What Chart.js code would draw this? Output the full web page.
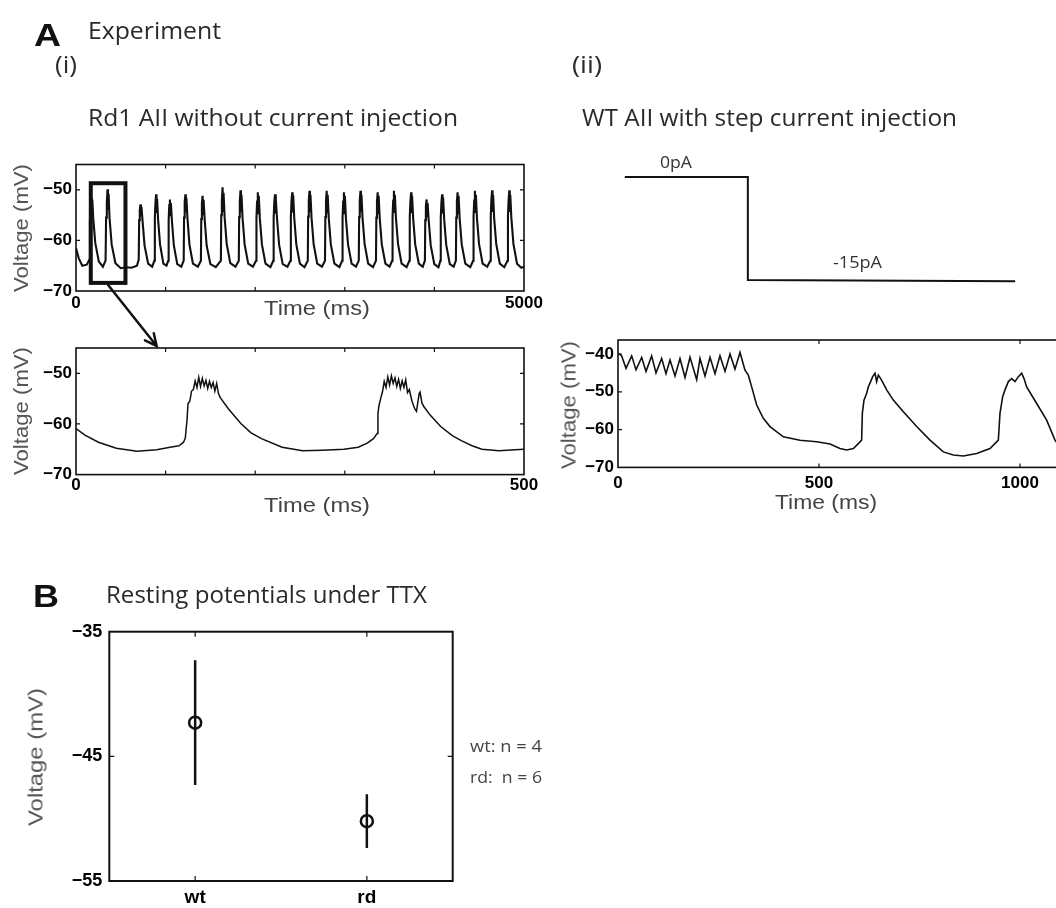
<!DOCTYPE html>
<html>
<head>
<meta charset="utf-8">
<script src="https://cdn.jsdelivr.net/npm/chart.js@4.4.1/dist/chart.umd.min.js"></script>
<style>
  html, body { margin: 0; padding: 0; background: #fff; }
  body { position: relative; width: 1056px; height: 908px; overflow: hidden; }
  canvas { position: absolute; }
  .lbl { position: absolute; white-space: pre; line-height: 1; }
</style>
</head>
<body>
<canvas id="overview" width="560" height="180" style="left:0px;top:140px"></canvas>
<canvas id="zoomed" width="560" height="175" style="left:0px;top:330px"></canvas>
<canvas id="step" width="500" height="160" style="left:600px;top:150px"></canvas>
<canvas id="wtTrace" width="560" height="175" style="left:540px;top:320px"></canvas>
<canvas id="rest" width="470" height="300" style="left:0px;top:615px"></canvas>
<canvas id="arrow" width="1056" height="908" style="left:0px;top:0px"></canvas>
<script>
// (i) Rd1 AII, 5 s recording: [time ms, voltage mV]
const overviewTrace = [
  [0,-61.5],[30,-63.5],[70,-65.0],[120,-64.8],[150,-63.8],
  [155,-56],[163,-53.2],[170,-51.6],[176,-54.5],[182,-52],[192,-55.5],[215,-60.5],[255,-64.2],[300,-65.2],[330,-64],
  [336,-55.5],[344,-52.5],[352,-49.9],[357,-54],[364,-50.8],[374,-55.5],[398,-60.8],[440,-64.5],[500,-65.5],[560,-65.3],[620,-65.4],[680,-65],[700,-63.8],
  [705,-56],[712,-54],[719,-52.9],[725,-55.2],[731,-53.4],[742,-56],[765,-61],[805,-64.6],[850,-65.2],[875,-64],
  [880,-55.5],[887,-52.5],[894,-50.9],[899,-54.6],[905,-51.8],[916,-55.8],[938,-60.8],[975,-64.6],[1010,-65],[1030,-64],
  [1034,-56],[1041,-53],[1048,-51.9],[1053,-55],[1059,-52.6],[1070,-56],[1092,-61],[1130,-64.7],[1175,-65.2],[1202,-64],
  [1206,-55.5],[1213,-52.4],[1221,-50.9],[1226,-54.5],[1232,-51.6],[1244,-55.6],[1266,-60.8],[1305,-64.6],[1360,-65.2],[1394,-64],
  [1398,-55.8],[1405,-52.6],[1413,-51.2],[1418,-54.8],[1424,-52],[1436,-55.8],[1458,-61],[1500,-64.7],[1560,-65.3],[1617,-64],
  [1621,-55],[1628,-52],[1636,-49.5],[1641,-54.2],[1647,-50.6],[1659,-55.5],[1682,-60.7],[1722,-64.5],[1780,-65.2],[1817,-64],
  [1821,-55.4],[1828,-52.2],[1836,-50.1],[1841,-54.4],[1847,-51],[1859,-55.6],[1882,-60.8],[1922,-64.6],[1975,-65.2],[2010,-64],
  [2014,-55.6],[2021,-52.3],[2029,-50.5],[2034,-54.6],[2040,-51.2],[2052,-55.7],[2075,-60.8],[2115,-64.6],[2170,-65.3],[2202,-64],
  [2206,-55.6],[2213,-52.5],[2221,-50.9],[2226,-54.7],[2232,-51.5],[2244,-55.8],[2267,-60.9],[2307,-64.7],[2360,-65.2],[2394,-64],
  [2398,-55.5],[2405,-52.2],[2413,-50.5],[2418,-54.5],[2424,-51.1],[2436,-55.6],[2459,-60.8],[2499,-64.6],[2550,-65.3],[2587,-64],
  [2591,-55.3],[2598,-52.1],[2606,-50.2],[2611,-54.4],[2617,-51],[2629,-55.6],[2652,-60.7],[2692,-64.6],[2745,-65.2],[2779,-64],
  [2783,-55.4],[2790,-52.2],[2798,-50.2],[2803,-54.5],[2809,-51],[2821,-55.6],[2844,-60.8],[2884,-64.6],[2940,-65.3],[2971,-64],
  [2975,-55.5],[2982,-52.3],[2990,-50.5],[2995,-54.6],[3001,-51.2],[3013,-55.7],[3036,-60.8],[3076,-64.6],[3125,-65.2],[3156,-64],
  [3160,-55.4],[3167,-52.1],[3175,-50.2],[3180,-54.4],[3186,-51],[3198,-55.6],[3221,-60.7],[3261,-64.6],[3315,-65.3],[3348,-64],
  [3352,-55.5],[3359,-52.3],[3367,-50.5],[3372,-54.6],[3378,-51.2],[3390,-55.7],[3413,-60.8],[3453,-64.6],[3500,-65.2],[3529,-64],
  [3533,-55.3],[3540,-52.1],[3548,-50.2],[3553,-54.4],[3559,-51],[3571,-55.6],[3594,-60.7],[3634,-64.6],[3690,-65.3],[3721,-64],
  [3725,-55.5],[3732,-52.3],[3740,-50.5],[3745,-54.6],[3751,-51.2],[3763,-55.7],[3786,-60.8],[3826,-64.6],[3870,-65.2],[3894,-64],
  [3898,-56],[3905,-53.2],[3913,-51.9],[3918,-55.2],[3924,-52.6],[3936,-56],[3959,-61],[3999,-64.7],[4045,-65.3],[4067,-64],
  [4071,-55.6],[4078,-52.5],[4086,-50.9],[4091,-54.7],[4097,-51.5],[4109,-55.8],[4132,-60.9],[4172,-64.7],[4215,-65.2],[4240,-64],
  [4244,-55.5],[4251,-52.3],[4259,-50.5],[4264,-54.6],[4270,-51.2],[4282,-55.7],[4305,-60.8],[4345,-64.6],[4400,-65.3],[4433,-64],
  [4437,-55.3],[4444,-52.1],[4452,-50.2],[4457,-54.4],[4463,-51],[4475,-55.6],[4498,-60.7],[4538,-64.6],[4590,-65.2],[4625,-64],
  [4629,-55.3],[4636,-52],[4644,-50.1],[4649,-54.4],[4655,-51],[4667,-55.6],[4690,-60.7],[4730,-64.6],[4780,-65.3],[4817,-64],
  [4821,-55.3],[4828,-52],[4836,-50.1],[4841,-54.4],[4847,-51],[4859,-55.6],[4882,-60.7],[4922,-64.6],[4970,-65.4],[5000,-65.2]
];

// (i) enlarged 500 ms stretch
const zoomTrace = [
  [0,-60.9],[10,-62.2],[25,-63.6],[45,-64.8],[68,-65.4],[90,-65.1],[105,-64.6],[115,-64.3],[120,-63.6],[122,-62.8],
  [124,-59],[125,-56],[127,-55.5],[129,-53.5],[131,-53.2],[133,-51.5],[135,-52.8],[137,-50.8],[139,-52.6],[141,-51],
  [143,-52.5],[145,-51.4],[147,-53],[149,-51.6],[151,-52.8],[153,-51.8],[155,-53.5],[157,-52],[159,-54],[161,-54.8],
  [170,-57],[184,-59.9],[195,-61.7],[207,-62.9],[230,-64.6],[253,-65.3],[275,-65.2],[299,-65],[315,-64.6],[325,-63.8],
  [332,-62.9],[336,-61.9],[337,-58],[338,-56.5],[340,-55],[342,-53.7],[344,-51.6],[346,-52.8],[348,-50.7],[350,-52.3],
  [352,-50.5],[354,-52],[356,-50.9],[358,-52.6],[360,-51.2],[362,-53],[364,-51.5],[366,-52.8],[368,-51.3],[370,-53.8],
  [372,-53.2],[375,-55.5],[378,-57],[380,-57.5],[383,-54],[384,-53.7],[386,-55.8],[388,-56.5],[395,-58.2],[407,-60.5],
  [420,-62.3],[430,-63.3],[442,-64.3],[453,-65],[472,-65.3],[490,-65.1],[500,-65]
];

// (ii) injected current step
const stepTime = [17, 323, 323, 988];
const stepCurrent = [0, 0, -15, -15.2];

// (ii) WT AII response
const wtTrace = [
  [0.8,-39.8],[9.1,-40.5],[19.9,-43.8],[34,-40.5],[44.8,-44.2],[58.9,-40.9],[69.7,-44.6],[83.7,-40.5],[94.5,-45],
  [108.6,-41.2],[119.4,-45.2],[129.4,-41.6],[141.8,-45.8],[154.2,-41.2],[166.7,-46.2],[179.1,-40.9],[195.7,-46.8],
  [204,-41.2],[216.4,-45.8],[228.9,-40.9],[241.3,-45.2],[253.7,-40.5],[266.2,-44.6],[278.6,-40],[291,-44],
  [303.5,-39.6],[315.9,-44.3],[324.2,-45.6],[332.5,-48.7],[345,-53.5],[361.5,-57],[378.1,-59.2],[411.3,-61.9],
  [452.7,-62.8],[494.2,-63.2],[527.4,-63.8],[552.2,-65],[568.8,-65.4],[585.4,-65],[597.8,-63.7],[606.1,-62.8],
  [607.8,-55.7],[611.9,-52.2],[618.6,-50.4],[622.7,-48.7],[628.5,-47.3],[633.5,-46],[639.3,-45.1],[643.4,-47.3],
  [647.6,-45.6],[653.4,-46.5],[660,-47.8],[668.3,-49.5],[684.9,-52.2],[709.8,-55.3],[743,-59.2],[776.1,-62.8],
  [809.3,-65.9],[834.2,-66.7],[859,-67],[892.2,-66.3],[925.4,-65],[946.1,-62.8],[950.2,-55.7],[956.9,-51.3],
  [962.7,-49.5],[971,-47.3],[979.3,-46.5],[987.6,-47.3],[995.9,-46],[1004.1,-45.1],[1010,-46.5],[1016.6,-48.7],
  [1041.5,-53.1],[1066.3,-57.5],[1087,-62.8],[1099.5,-64.6],[1120,-66],[1150,-66.8]
];

// B: resting potentials under TTX
const groups = ['wt', 'rd'];
const groupMean = [-42.3, -50.2];
const groupErr = [5.0, 2.15];

// ticks
const overviewXTicks = [0, 1000, 2000, 3000, 4000, 5000];
const overviewXLabels = [0, 5000];
const zoomXTicks = [0, 100, 200, 300, 400, 500];
const zoomXLabels = [0, 500];
const traceYTicks = [-70, -60, -50];
const wtXTicks = [0, 500, 1000];
const wtYTicks = [-70, -60, -50, -40];
const restYTicks = [-55, -45, -35];

// region of the 5 s trace shown enlarged: t0, t1, vLow, vHigh
const zoomBox = [165, 552, -68.4, -48.7];

Chart.defaults.font.family = 'Liberation Sans';
Chart.defaults.animation = false;

const fmt = v => v < 0 ? '\u2212' + Math.abs(v) : String(v);
const pts = arr => arr.map(p => ({ x: p[0], y: p[1] }));

// matlab style box with inward ticks
const frame = {
  id: 'frame',
  afterDatasetsDraw(chart, args, o) {
    if (!o.show) return;
    const { ctx, chartArea: a, scales } = chart;
    ctx.save();
    ctx.strokeStyle = '#111';
    ctx.lineWidth = o.width;
    ctx.strokeRect(a.left, a.top, a.right - a.left, a.bottom - a.top);
    ctx.lineWidth = 1.2;
    ctx.beginPath();
    scales.x.ticks.forEach(t => {
      const p = scales.x.getPixelForValue(t.value);
      if (p <= a.left + 1 || p >= a.right - 1) return;
      ctx.moveTo(p, a.bottom); ctx.lineTo(p, a.bottom - o.len);
      ctx.moveTo(p, a.top); ctx.lineTo(p, a.top + o.len);
    });
    scales.y.ticks.forEach(t => {
      const p = scales.y.getPixelForValue(t.value);
      if (p <= a.top + 1 || p >= a.bottom - 1) return;
      ctx.moveTo(a.left, p); ctx.lineTo(a.left + o.len, p);
      ctx.moveTo(a.right, p); ctx.lineTo(a.right - o.len, p);
    });
    ctx.stroke();
    ctx.restore();
  }
};

const highlight = {
  id: 'highlight',
  afterDatasetsDraw(chart) {
    const { ctx, scales: { x, y } } = chart;
    const l = x.getPixelForValue(zoomBox[0]), r = x.getPixelForValue(zoomBox[1]);
    const b = y.getPixelForValue(zoomBox[2]), t = y.getPixelForValue(zoomBox[3]);
    ctx.save();
    ctx.strokeStyle = '#111';
    ctx.lineWidth = 4;
    ctx.strokeRect(l, t, r - l, b - t);
    ctx.restore();
  }
};

function axis(min, max, ticks, labels, opt) {
  return {
    type: 'linear', min, max,
    display: opt.show !== false,
    grid: { display: false, drawTicks: false },
    border: { display: false },
    afterBuildTicks: s => { s.ticks = ticks.map(v => ({ value: v })); },
    afterFit: s => {
      if (opt.w != null) { s.width = opt.w; s.paddingTop = 0; s.paddingBottom = 0; }
      if (opt.h != null) { s.height = opt.h; s.paddingLeft = 0; s.paddingRight = 0; }
    },
    ticks: {
      autoSkip: false, maxRotation: 0, minRotation: 0, padding: opt.pad || 0, color: '#000',
      font: { size: opt.size || 17, weight: 'bold' },
      callback: opt.cb || (v => labels.includes(v) ? fmt(v) : '')
    }
  };
}

function make(id, datasets, x, y, padding, frameOpt, extra) {
  return new Chart(document.getElementById(id), {
    type: 'scatter',
    data: { datasets },
    plugins: [frame].concat(extra || []),
    options: {
      responsive: false,
      events: [],
      layout: { padding },
      scales: { x, y },
      plugins: { legend: { display: false }, tooltip: { enabled: false }, frame: frameOpt }
    }
  });
}

const line = (data, w) => ({ data, showLine: true, borderColor: '#111', borderWidth: w, pointRadius: 0, tension: 0 });

const overview = make('overview', [line(pts(overviewTrace), 2.1)],
  axis(0, 5000, overviewXTicks, overviewXLabels, { h: 29, pad: 2 }),
  axis(-70, -45, traceYTicks, traceYTicks, { w: 76, pad: 4 }),
  { left: 0, top: 24.5, right: 36, bottom: 0 }, { show: true, width: 1.6, len: 4 }, [highlight]);

const zoomed = make('zoomed', [line(pts(zoomTrace), 1.5)],
  axis(0, 500, zoomXTicks, zoomXLabels, { h: 30.4, pad: 1 }),
  axis(-70, -45, traceYTicks, traceYTicks, { w: 76, pad: 4 }),
  { left: 0, top: 18, right: 36, bottom: 0 }, { show: true, width: 1.6, len: 4 });

make('step', [line(stepTime.map((t, i) => ({ x: t, y: stepCurrent[i] })), 2)],
  axis(0, 1150, [], [], { show: false }),
  axis(-17, 2, [], [], { show: false }),
  { left: 18, top: 13.3, right: 19.7, bottom: 16.3 }, { show: false });

make('wtTrace', [line(pts(wtTrace), 1.6)],
  axis(0, 1150, wtXTicks, wtXTicks, { h: 27.6, pad: 6 }),
  axis(-70, -36.3, wtYTicks, wtYTicks, { w: 78, pad: 4 }),
  { left: 0, top: 20, right: 19.7, bottom: 0 }, { show: true, width: 1.6, len: 4 });

const errBars = groups.map((g, i) => line([
  { x: i + 1, y: groupMean[i] + groupErr[i] },
  { x: i + 1, y: groupMean[i] - groupErr[i] }], 2.5));
make('rest', errBars.concat([{
    data: groupMean.map((m, i) => ({ x: i + 1, y: m })),
    pointRadius: 6, pointBorderWidth: 2.5, pointBorderColor: '#111',
    pointBackgroundColor: 'rgba(0,0,0,0)'
  }]),
  axis(0.5, 2.5, [1, 2], [1, 2], { h: 34, pad: 5, size: 19, cb: v => groups[v - 1] || '' }),
  axis(-55, -35, restYTicks, restYTicks, { w: 109.3, pad: 7, size: 18 }),
  { left: 0, top: 16.7, right: 17.3, bottom: 0 }, { show: true, width: 2, len: 5 });

// arrow from the highlight box down to the enlarged panel
(function () {
  const c1 = document.getElementById('overview'), c2 = document.getElementById('zoomed');
  const x0 = c1.offsetLeft + overview.scales.x.getPixelForValue((zoomBox[0] + zoomBox[1]) / 2);
  const y0 = c1.offsetTop + overview.scales.y.getPixelForValue(zoomBox[2]) + 2;
  const x1 = c2.offsetLeft + zoomed.scales.x.getPixelForValue(90);
  const y1 = c2.offsetTop + zoomed.chartArea.top - 2;
  const ctx = document.getElementById('arrow').getContext('2d');
  const ang = Math.atan2(y1 - y0, x1 - x0), len = 13;
  ctx.strokeStyle = '#111';
  ctx.lineWidth = 2.5;
  ctx.lineCap = 'round';
  ctx.beginPath();
  ctx.moveTo(x0, y0); ctx.lineTo(x1, y1);
  ctx.moveTo(x1 - len * Math.cos(ang - 0.45), y1 - len * Math.sin(ang - 0.45));
  ctx.lineTo(x1, y1);
  ctx.lineTo(x1 - len * Math.cos(ang + 0.45), y1 - len * Math.sin(ang + 0.45));
  ctx.stroke();
})();

// text: [text, left, baseline, size, target width, family, weight, colour]
const OS = 'Open Sans', LS = 'Liberation Sans';
const texts = [
  ['A', 34, 46, 32, 27, LS, 700, '#111'],
  ['Experiment', 88, 39, 23, 133, OS, 400, '#2a2a2a'],
  ['(i)', 55, 73, 23, 22, OS, 400, '#2a2a2a'],
  ['(ii)', 572, 73, 23, 30, OS, 400, '#2a2a2a'],
  ['Rd1 AII without current injection', 88, 126, 23, 370, OS, 400, '#2a2a2a'],
  ['WT AII with step current injection', 582, 126, 23, 375, OS, 400, '#2a2a2a'],
  ['0pA', 660, 168, 17, 32, OS, 400, '#333'],
  ['-15pA', 833, 268, 17, 49, OS, 400, '#333'],
  ['B', 33, 607, 32, 26, LS, 700, '#111'],
  ['Resting potentials under TTX', 106, 603, 23, 321, OS, 400, '#2a2a2a'],
  ['wt: n = 4', 470, 752, 17, 72, OS, 400, '#444'],
  ['rd:  n = 6', 470, 783, 17, 72, OS, 400, '#444'],
  ['Time (ms)', 264, 315, 21, 106, LS, 400, '#444'],
  ['Time (ms)', 264, 512, 21, 106, LS, 400, '#444'],
  ['Time (ms)', 775, 509, 21, 102, LS, 400, '#444']
];
texts.forEach(d => {
  const el = document.createElement('div');
  el.className = 'lbl';
  el.style.cssText = `left:${d[1]}px;top:0px;font:${d[6]} ${d[3]}px "${d[5]}";color:${d[7]};transform-origin:0 0`;
  el.textContent = d[0];
  const mark = document.createElement('span');
  mark.style.cssText = 'display:inline-block;width:0;height:0';
  el.appendChild(mark);
  document.body.appendChild(el);
  const w = el.getBoundingClientRect().width;
  el.style.top = (d[2] - mark.offsetTop) + 'px';
  el.style.transform = `scaleX(${d[4] / w})`;
});

// rotated y-axis titles: [centre x, centre y, size, length]
const yTitles = [[21, 228, 20, 128], [21, 411, 20, 128], [569, 405, 20, 128], [36, 757, 20, 138]];
yTitles.forEach(d => {
  const el = document.createElement('div');
  el.className = 'lbl';
  el.style.cssText = `left:${d[0]}px;top:${d[1]}px;font:400 ${d[2]}px "Liberation Sans";color:#555`;
  el.textContent = 'Voltage (mV)';
  document.body.appendChild(el);
  const w = el.getBoundingClientRect().width;
  el.style.transform = `translate(-50%,-50%) rotate(-90deg) scaleX(${d[3] / w})`;
});
</script>
</body>
</html>
